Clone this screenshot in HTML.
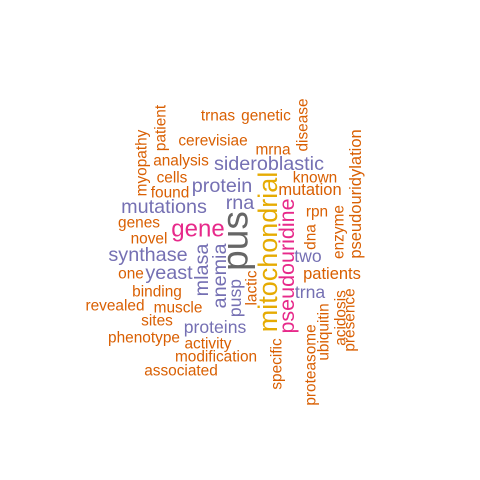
<!DOCTYPE html>
<html><head><meta charset="utf-8"><style>html,body{margin:0;padding:0;background:#fff}svg{display:block}text{font-family:"Liberation Sans",sans-serif}</style></head>
<body>
<svg id="cloud" width="480" height="480" viewBox="0 0 480 480"></svg>
<script>
const words=["trnas","genetic","cerevisiae","mrna","analysis","sideroblastic","known","cells","protein","found","mutation","mutations","rna","genes","gene","rpn","novel","synthase","two","one","yeast","patients","binding","trna","revealed","muscle","sites","proteins","phenotype","activity","modification","associated","patient","myopathy","disease","pseudouridylation","pus","mitochondrial","pseudouridine","dna","enzyme","mlasa","anemia","pusp","lactic","ubiquitin","acidosis","presence","specific","proteasome"];
const freqs=[15.4,15.4,15.4,15.4,15.4,19.8,15.4,15.4,19.8,15.4,16.5,19.8,19.8,15.4,24,15.4,15.4,19.8,17.6,15.4,19.8,16.5,15.4,17.6,15.4,15.4,15.4,17.6,15.4,15.4,15.4,15.4,15.4,15.4,15.4,16.5,37,27,21.5,15.4,15.4,19.8,19.8,17.6,15.4,15.4,15.4,15.4,15.4,15.4];
const colorGroup=[0,0,0,0,0,1,0,0,1,0,0,1,1,0,2,0,0,1,1,0,1,0,0,1,0,0,0,1,0,0,0,0,0,0,0,0,4,3,2,0,0,1,1,1,0,0,0,0,0,0];
const layout=[[218,116,0],[266,116,0],[213,141,0],[273,150,0],[181,161,0],[269,164,0],[315,178,0],[172,178,0],[222,186,0],[170,193,0],[310,190,0],[164,207,0],[240,203,0],[139,223,0],[198,229,0],[317,212,0],[149,239,0],[148,255,0],[308,256,0],[131,274,0],[169,273,0],[332,274,0],[157,292,0],[310,292,0],[115,306,0],[178,308,0],[157,321,0],[215,327,0],[144,338,0],[208,344,0],[216,357,0],[181,371,0],[161,128,1],[142,163,1],[303,125,1],[356,194,1],[235,241,1],[268,252,1],[287,266,1],[311,237,1],[339,232,1],[202,270,1],[220,276,1],[235,298,1],[252,288,1],[324,332,1],[341,318,1],[350,320,1],[277,364,1],[311,365,1]];
const palette=["#D95F02","#7570B3","#E7298A","#E6AB02","#666666"];
const svg=document.getElementById('cloud');
const NS="http://www.w3.org/2000/svg";
words.forEach((w,i)=>{
  const [x,y,rot]=layout[i];
  const t=document.createElementNS(NS,'text');
  
  
  t.setAttribute('font-size',freqs[i]);
  t.setAttribute('fill',palette[colorGroup[i]]);
  t.setAttribute('text-anchor','middle');
  t.setAttribute('dominant-baseline','central');
  if(rot){t.setAttribute('transform','translate('+x+','+y+') rotate(-90)');}
  else{t.setAttribute('x',x);t.setAttribute('y',y);}
  t.textContent=w;
  svg.appendChild(t);
});
</script>
</body></html>
